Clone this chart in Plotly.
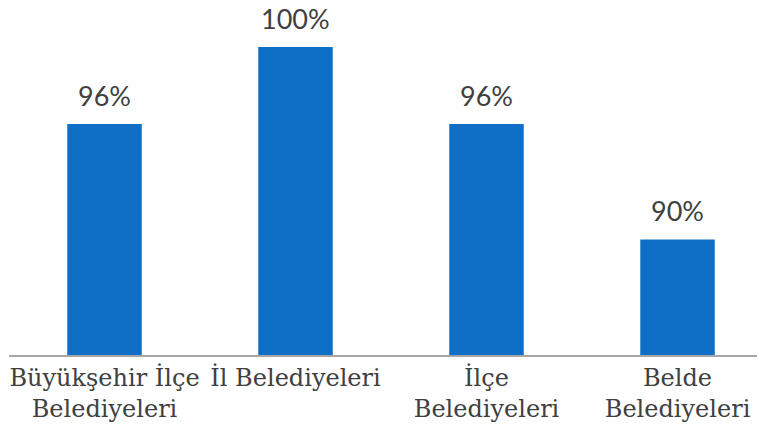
import plotly.graph_objects as go

categories = ["Büyükşehir İlçe<br>Belediyeleri", "İl Belediyeleri", "İlçe<br>Belediyeleri", "Belde<br>Belediyeleri"]
values = [96, 100, 96, 90]
value_labels = ["96%", "100%", "96%", "90%"]

BAR_COLOR = "#0F6FC6"
TEXT_COLOR = "#404040"

fig = go.Figure()
fig.add_trace(go.Bar(
    x=list(range(len(categories))),
    y=values,
    marker=dict(color=BAR_COLOR, line=dict(width=0)),
    hoverinfo="skip",
))

for i, (v, lab) in enumerate(zip(values, value_labels)):
    fig.add_annotation(
        x=i, y=v, text=lab, showarrow=False,
        xanchor="center", yanchor="bottom", yshift=10,
        font=dict(family="Lato", size=27, color=TEXT_COLOR),
    )

fig.update_layout(
    width=765, height=437,
    margin=dict(l=1, r=8, t=12, b=90),
    paper_bgcolor="white", plot_bgcolor="white",
    bargap=0.61,
    showlegend=False,
    xaxis=dict(
        range=[-0.5, 3.458],
        tickmode="array",
        tickvals=list(range(len(categories))),
        ticktext=categories,
        tickfont=dict(family="DejaVu Serif", size=24, color=TEXT_COLOR),
        showline=True, linecolor="#A6A6A6", linewidth=2,
        showgrid=False, zeroline=False, ticks="",
        automargin=False,
    ),
    yaxis=dict(
        range=[84, 101.4],
        visible=False,
        showgrid=False, zeroline=False,
        automargin=False,
    ),
)

fig.write_html("out.html")
